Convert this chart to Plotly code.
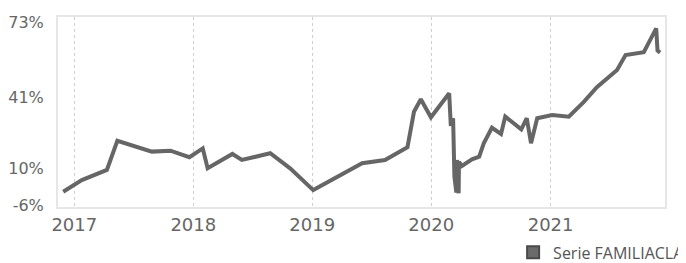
import plotly.graph_objects as go

dates = ["2016-11-28", "2017-01-24", "2017-04-11", "2017-05-13", "2017-08-27", "2017-10-23",
         "2017-12-20", "2018-01-30", "2018-02-14", "2018-05-01", "2018-05-30", "2018-08-25",
         "2018-10-25", "2019-01-04", "2019-06-03", "2019-08-12", "2019-10-20", "2019-11-09",
         "2019-11-30", "2019-12-31", "2020-02-25", "2020-03-01", "2020-03-08", "2020-03-12",
         "2020-03-18", "2020-03-20", "2020-03-25", "2020-03-26", "2020-04-04", "2020-05-05",
         "2020-05-27", "2020-06-10", "2020-07-05", "2020-08-02", "2020-08-15", "2020-10-03",
         "2020-10-20", "2020-11-02", "2020-11-21", "2021-01-06", "2021-02-26", "2021-04-13",
         "2021-05-23", "2021-07-24", "2021-08-19", "2021-10-14", "2021-11-21", "2021-11-25",
         "2021-12-03"]
values = [0.1, 5.1, 9.5, 22.1, 17.4, 17.8,
          15.0, 18.8, 10.2, 16.4, 13.8, 16.7,
          10.2, 0.8, 12.4, 13.8, 19.3, 34.6,
          40.0, 32.2, 42.6, 28.5, 31.8, 6.6,
          -0.3, 13.8, -0.6, 13.0, 11.2, 14.1,
          15.2, 21.0, 27.7, 25.0, 32.5, 27.0,
          31.8, 21.0, 31.8, 33.2, 32.5, 38.9,
          45.2, 52.6, 59.1, 60.3, 70.6, 61.0,
          60.1]
y_ticks = [-6, 10, 41, 73]
y_tick_text = ["-6%", "10%", "41%", "73%"]
x_ticks = ["2017-01-01", "2018-01-01", "2019-01-01", "2020-01-01", "2021-01-01"]
x_tick_text = ["2017", "2018", "2019", "2020", "2021"]
series_name = "Serie FAMILIACLASSE A"

fig = go.Figure()
fig.add_trace(go.Scatter(
    x=dates, y=values, mode="lines", name=series_name,
    line=dict(color="#666666", width=4), showlegend=False, legendgroup="s"))
fig.add_trace(go.Scatter(
    x=[None], y=[None], mode="markers", name=series_name, legendgroup="s",
    marker=dict(symbol="square", size=14, color="#6b6b6b",
                line=dict(color="#4a4a4a", width=1.5)),
    showlegend=True))

# the page adds an 8px body margin, so the figure is sized/offset to compensate
fig.update_layout(
    width=678, height=255,
    margin=dict(l=50, r=21, t=9, b=56, autoexpand=False),
    paper_bgcolor="white", plot_bgcolor="white",
    font=dict(family="DejaVu Sans", color="#666666"),
    showlegend=True,
    legend=dict(orientation="h", xref="container", yref="container",
                x=0.745, xanchor="left", y=0.108, yanchor="top",
                font=dict(family="Open Sans", size=16, color="#555555"),
                bgcolor="rgba(0,0,0,0)", itemsizing="constant"),
    xaxis=dict(
        range=["2016-11-12", "2021-12-18"],
        tickvals=x_ticks, ticktext=x_tick_text,
        tickfont=dict(size=18, color="#666666"),
        showgrid=True, gridcolor="#cfcfcf", griddash="dot", gridwidth=1,
        showline=True, mirror=True, linecolor="#e6e6e6", linewidth=2,
        zeroline=False, ticks="", automargin=False),
    yaxis=dict(
        range=[-6.5, 75.5],
        tickvals=y_ticks, ticktext=y_tick_text,
        tickfont=dict(size=16, color="#666666"),
        showgrid=False, zeroline=False, automargin=False,
        showline=True, mirror=True, linecolor="#e6e6e6", linewidth=2,
        ticks="outside", ticklen=9, tickcolor="rgba(0,0,0,0)"),
)

fig.write_html("out.html")
